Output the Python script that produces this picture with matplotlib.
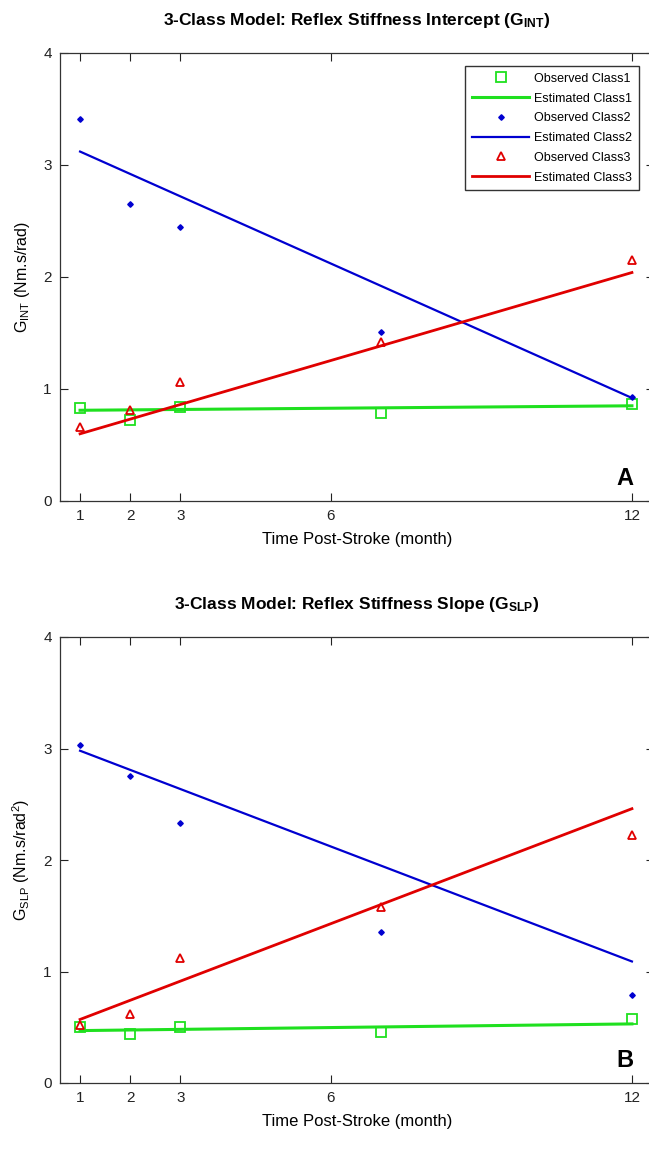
"""
Modelo de 3 clases: rigidez refleja (intercepto y pendiente) frente al tiempo post-ictus.
"""
import matplotlib
matplotlib.use("Agg")
import matplotlib.pyplot as plt

plt.rcParams["font.family"] = ["Liberation Sans", "DejaVu Sans"]
plt.rcParams["mathtext.fontset"] = "custom"
plt.rcParams["mathtext.rm"] = "Liberation Sans"
plt.rcParams["mathtext.it"] = "Liberation Sans"
plt.rcParams["mathtext.bf"] = "Liberation Sans:bold"

# --- datos ---------------------------------------------------------------
meses = [1, 2, 3, 7, 12]
xticks = [1, 2, 3, 6, 12]
recta_x = [1, 12]

# panel A: G_INT
int_obs1 = [0.83, 0.72, 0.84, 0.79, 0.87]
int_obs2 = [3.41, 2.65, 2.45, 1.51, 0.93]
int_obs3 = [0.66, 0.81, 1.06, 1.42, 2.15]
int_est1 = [0.81, 0.85]
int_est2 = [3.12, 0.92]
int_est3 = [0.60, 2.04]

# panel B: G_SLP
slp_obs1 = [0.50, 0.44, 0.50, 0.46, 0.57]
slp_obs2 = [3.03, 2.75, 2.33, 1.35, 0.79]
slp_obs3 = [0.52, 0.62, 1.12, 1.58, 2.22]
slp_est1 = [0.47, 0.53]
slp_est2 = [2.98, 1.09]
slp_est3 = [0.57, 2.46]

VERDE = "#1fe01f"
AZUL = "#0000d0"
ROJO = "#e00000"

W, H = 649, 1157
fig = plt.figure(figsize=(W / 100, H / 100), dpi=100)


def panel(rect, obs, est, titulo, ylab, letra, leyenda=False):
    ax = fig.add_axes(rect)
    o1, o2, o3 = obs
    e1, e2, e3 = est
    ax.plot(meses, o1, ls="none", marker="s", ms=6.5, mfc="none", mec=VERDE, mew=1.3,
            label="Observed Class1")
    ax.plot(recta_x, e1, color=VERDE, lw=2.2, label="Estimated Class1")
    ax.plot(meses, o2, ls="none", marker="D", ms=2.8, color=AZUL, label="Observed Class2")
    ax.plot(recta_x, e2, color=AZUL, lw=1.6, label="Estimated Class2")
    ax.plot(meses, o3, ls="none", marker="^", ms=5.5, mfc="none", mec=ROJO, mew=1.3,
            label="Observed Class3")
    ax.plot(recta_x, e3, color=ROJO, lw=2.0, label="Estimated Class3")
    ax.set_xlim(0.6, 12.44)
    ax.set_ylim(0, 4)
    ax.set_xticks(xticks)
    ax.set_yticks([0, 1, 2, 3, 4])
    ax.tick_params(direction="in", length=6, width=0.8, top=True, right=True,
                   labelsize=11, colors="#222222", pad=6)
    for s in ax.spines.values():
        s.set_linewidth(0.9)
        s.set_color("#333333")
    ax.set_title(titulo, fontsize=12.5, fontweight="bold", pad=20)
    ax.set_xlabel("Time Post-Stroke (month)", fontsize=12, labelpad=6)
    ax.set_ylabel(ylab, fontsize=11.5, labelpad=8)
    ax.text(0.965, 0.025, letra, transform=ax.transAxes, fontsize=17,
            fontweight="bold", ha="right", va="bottom")
    if leyenda:
        ax.legend(loc="upper right", bbox_to_anchor=(0.975, 0.971), fontsize=9,
                  frameon=True, fancybox=False, edgecolor="#333333", framealpha=1,
                  borderaxespad=0.0, handlelength=4.6, labelspacing=0.62,
                  borderpad=0.55, handletextpad=0.4)
    return ax


ax_w = (654 - 60) / W
panel([60 / W, 1 - 501 / H, ax_w, 448 / H],
      (int_obs1, int_obs2, int_obs3), (int_est1, int_est2, int_est3),
      r"3-Class Model: Reflex Stiffness Intercept (G$_{\mathbf{INT}}$)",
      r"G$_{\mathrm{INT}}$ (Nm.s/rad)", "A", leyenda=True)
panel([60 / W, 1 - 1083 / H, ax_w, 446 / H],
      (slp_obs1, slp_obs2, slp_obs3), (slp_est1, slp_est2, slp_est3),
      r"3-Class Model: Reflex Stiffness Slope (G$_{\mathbf{SLP}}$)",
      r"G$_{\mathrm{SLP}}$ (Nm.s/rad$^{2}$)", "B")

fig.savefig("out.png", dpi=100)
